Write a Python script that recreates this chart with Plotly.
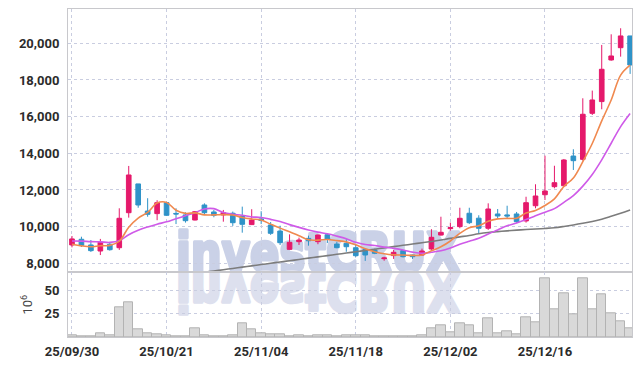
import base64
import plotly.graph_objects as go

dates = ["25/09/30", "25/10/01", "25/10/02", "25/10/10", "25/10/13", "25/10/14", "25/10/15", "25/10/16",
         "25/10/17", "25/10/20", "25/10/21", "25/10/22", "25/10/23", "25/10/24", "25/10/27", "25/10/28",
         "25/10/29", "25/10/30", "25/10/31", "25/11/03", "25/11/04", "25/11/05", "25/11/06", "25/11/07",
         "25/11/10", "25/11/11", "25/11/12", "25/11/13", "25/11/14", "25/11/17", "25/11/18", "25/11/19",
         "25/11/20", "25/11/21", "25/11/24", "25/11/25", "25/11/26", "25/11/27", "25/11/28", "25/12/01",
         "25/12/02", "25/12/03", "25/12/04", "25/12/05", "25/12/08", "25/12/09", "25/12/10", "25/12/11",
         "25/12/12", "25/12/15", "25/12/16", "25/12/17", "25/12/18", "25/12/19", "25/12/22", "25/12/23",
         "25/12/24", "25/12/26", "25/12/29", "25/12/30"]

opens = [9000, 9310, 9000, 8670, 9040, 8850, 10760, 12330, 10850, 10710,
         11310, 10720, 10640, 10360, 11180, 10800, 10640, 10730, 10580, 10110,
         10420, 10090, 9760, 8760, 9180, 9360, 9180, 9560, 9050, 9090,
         8850, 8760, 8730, 8250, 8420, 8690, 8450, 8450, 8780, 9540,
         9890, 10000, 10730, 10460, 9910, 10690, 10640, 10690, 10310, 11140,
         11740, 12180, 12230, 13850, 13670, 16180, 16820, 19090, 19760, 20400]
highs = [9490, 9450, 9270, 9330, 9120, 11000, 13310, 12330, 11550, 11440,
         11350, 11000, 10780, 10850, 11270, 10910, 10910, 10820, 11090, 10950,
         10840, 10250, 10050, 9580, 9400, 9510, 9560, 9600, 9180, 9310,
         9000, 8800, 8800, 8360, 8730, 8720, 8470, 8800, 9860, 10540,
         10220, 11030, 11030, 10620, 11270, 10960, 11140, 10800, 11630, 12310,
         13870, 13320, 13690, 14220, 17000, 17420, 19910, 20490, 20820, 20400]
lows = [8870, 8890, 8620, 8450, 8690, 8730, 10490, 11030, 10540, 10350,
        10600, 10140, 10220, 10340, 10640, 10510, 10270, 10040, 9670, 10090,
        10140, 9550, 9000, 8740, 9000, 8960, 9040, 9110, 8820, 8630,
        8350, 8130, 8500, 8140, 8240, 8320, 8240, 8420, 8730, 9510,
        9780, 9910, 10140, 9640, 9820, 10460, 10460, 10200, 10220, 11000,
        11450, 12090, 12180, 13090, 13600, 16090, 16400, 19050, 19270, 18330]
closes = [9330, 8980, 8690, 9145, 8742, 10455, 12817, 11180, 10673, 11306,
          10618, 10690, 10324, 10815, 10760, 10618, 10760, 10215, 10127, 10362,
          10340, 9636, 9124, 9145, 9270, 9230, 9544, 9310, 8851, 8905,
          8415, 8453, 8545, 8290, 8600, 8360, 8360, 8671, 9418, 9691,
          9945, 10455, 10215, 9909, 10962, 10580, 10580, 10270, 11306, 11671,
          11944, 12397, 13635, 13597, 16128, 16908, 18583, 19308, 20400, 18817]

volumes_m = [2.1, 1.1, 1.1, 4.3, 2.1, 31.5, 37.6, 8.6, 4.3, 3.2,
             2.1, 1.1, 1.1, 9.7, 2.1, 1.1, 1.1, 2.1, 15.0, 8.6,
             4.3, 3.2, 3.2, 1.1, 2.1, 1.1, 2.1, 2.1, 1.1, 2.1,
             2.1, 2.1, 1.1, 1.1, 1.1, 1.1, 1.1, 2.1, 9.7, 12.9,
             5.0, 15.0, 12.2, 4.3, 20.4, 4.3, 6.4, 3.2, 21.5, 16.1,
             63.3, 30.0, 47.2, 24.7, 63.3, 30.0, 46.1, 25.8, 17.2, 9.7]

ma5 = [9040, 8950, 8900, 8960, 8977, 9202, 9970, 10468, 10773, 11286,
       11319, 10893, 10722, 10751, 10641, 10641, 10655, 10634, 10496, 10416,
       10361, 10136, 9918, 9721, 9503, 9281, 9263, 9300, 9241, 9168,
       9005, 8787, 8634, 8522, 8461, 8450, 8431, 8456, 8682, 8900,
       9217, 9636, 9945, 10043, 10297, 10424, 10449, 10460, 10740, 10881,
       11154, 11518, 12191, 12649, 13540, 14533, 15770, 16905, 18265, 18803]
ma10 = [9220, 9210, 9180, 9170, 9140, 9230, 9560, 9800, 9980, 10132,
        10261, 10432, 10595, 10762, 10964, 10980, 10774, 10678, 10623, 10529,
        10501, 10396, 10276, 10109, 9960, 9821, 9699, 9609, 9481, 9336,
        9143, 9025, 8967, 8881, 8814, 8727, 8609, 8545, 8602, 8680,
        8833, 9034, 9201, 9362, 9599, 9821, 10043, 10203, 10391, 10589,
        10789, 10983, 11325, 11694, 12211, 12844, 13644, 14548, 15457, 16172]
ma60 = [None, None, None, None, None, None, None, None, None, None,
        None, None, None, 7440, 7510, 7580, 7650, 7720, 7790, 7860,
        7930, 8000, 8070, 8140, 8210, 8280, 8350, 8420, 8490, 8560,
        8630, 8700, 8770, 8840, 8910, 8980, 9050, 9120, 9190, 9270,
        9360, 9440, 9520, 9610, 9680, 9730, 9770, 9810, 9840, 9870,
        9900, 9940, 10010, 10090, 10180, 10280, 10400, 10560, 10730, 10910]

price_ticks = [8000, 10000, 12000, 14000, 16000, 18000, 20000]
volume_ticks = [25, 50]
date_ticks = ["25/09/30", "25/10/21", "25/11/04", "25/11/18", "25/12/02", "25/12/16"]

UP = "#e5196b"
DOWN = "#2f93c8"
GRID = "#c9cde0"
BORDER = "#c8c8cc"
TXT = "#2b2b2b"

fig = go.Figure()

fig.add_trace(go.Scatter(x=dates, y=ma60, mode="lines", line=dict(color="#7c7c7c", width=1.6, shape="spline"),
                         xaxis="x", yaxis="y", connectgaps=False, hoverinfo="skip"))
fig.add_trace(go.Scatter(x=dates, y=ma10, mode="lines", line=dict(color="#cf5ae8", width=1.6, shape="spline"),
                         xaxis="x", yaxis="y", hoverinfo="skip"))
fig.add_trace(go.Scatter(x=dates, y=ma5, mode="lines", line=dict(color="#f0894f", width=1.6, shape="spline"),
                         xaxis="x", yaxis="y", hoverinfo="skip"))
fig.add_trace(go.Candlestick(x=dates, open=opens, high=highs, low=lows, close=closes,
                             increasing=dict(line=dict(color=UP, width=1), fillcolor=UP),
                             decreasing=dict(line=dict(color=DOWN, width=1), fillcolor=DOWN),
                             xaxis="x", yaxis="y"))
fig.add_trace(go.Bar(x=dates, y=volumes_m, marker=dict(color="#d9d9d9", line=dict(color="#b3b3b3", width=1)),
                     xaxis="x2", yaxis="y2"))

# watermark with its mirrored reflection
svg = (
    '<svg xmlns="http://www.w3.org/2000/svg" width="300" height="92" viewBox="0 0 300 92">'
    '<g font-family="DejaVu Sans" font-weight="bold" font-size="54" fill="#cad1e7" '
    'stroke="#cad1e7" stroke-width="3.5" stroke-linejoin="round">'
    '<text x="3" y="45" textLength="284" lengthAdjust="spacingAndGlyphs">investCRUX</text>'
    '<g transform="translate(0,92) scale(1,-1)" fill="#dde0ee" stroke="#dde0ee">'
    '<text x="3" y="45" textLength="284" lengthAdjust="spacingAndGlyphs">investCRUX</text>'
    '</g></g></svg>'
)
src = "data:image/svg+xml;base64," + base64.b64encode(svg.encode()).decode()

L, R, T, B = 68, 10, 9, 29
W, H = 642, 366
pw, ph = W - L - R, H - T - B
split = (337 - 272.3) / ph

fig.add_layout_image(dict(source=src, xref="paper", yref="paper",
                          x=(173 - L) / pw, y=(337 - 226) / ph, sizex=300 / pw, sizey=92 / ph,
                          xanchor="left", yanchor="top", sizing="stretch", layer="below"))

axis_common = dict(showline=True, linecolor=BORDER, linewidth=1, mirror=True, automargin=False,
                   showgrid=True, gridcolor=GRID, griddash="dot", gridwidth=1, zeroline=False,
                   tickfont=dict(family="Roboto", size=13, color=TXT, weight="bold"))

fig.update_layout(
    width=W, height=H,
    margin=dict(l=L, r=R, t=T, b=B, autoexpand=False),
    paper_bgcolor="white", plot_bgcolor="rgba(0,0,0,0)",
    showlegend=False,
    bargap=0,
    hovermode=False,
    font=dict(family="Roboto", color=TXT),
    xaxis=dict(domain=[0, 1], anchor="y", type="category", range=[-0.42, 59.2],
               tickvals=date_ticks, showticklabels=False, ticks="",
               rangeslider=dict(visible=False), **axis_common),
    yaxis=dict(domain=[split, 1], anchor="x", range=[7509, 21870], tickvals=price_ticks,
               tickformat=",d", ticks="", ticklabelstandoff=5, **axis_common),
    xaxis2=dict(domain=[0, 1], anchor="y2", type="category", range=[-0.42, 59.2],
                tickvals=date_ticks, ticktext=date_ticks, ticks="", ticklabelstandoff=2, **axis_common),
    yaxis2=dict(domain=[0, split], anchor="x2", range=[0, 69.7], tickvals=volume_ticks, ticks="",
                ticklabelstandoff=5,
                title=dict(text="10<sup>6</sup>", standoff=8, font=dict(family="Roboto", size=13, color="#444")),
                **axis_common),
)

fig.write_html("out.html", config={"displayModeBar": False},
               post_script="document.body.style.margin='0px';")
